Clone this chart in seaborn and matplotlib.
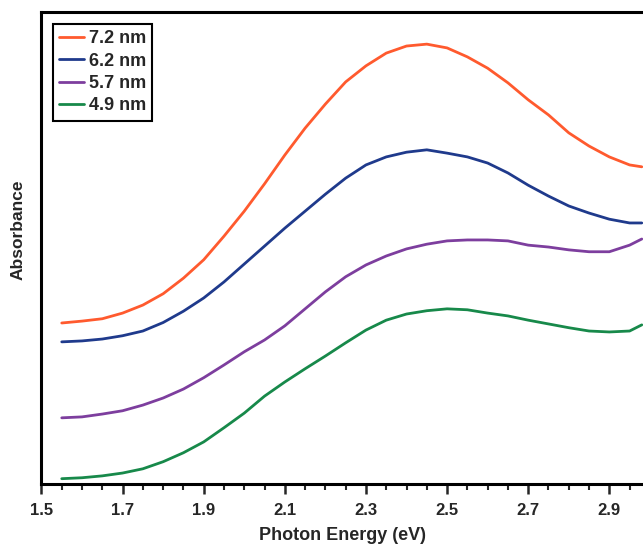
import numpy as np
import pandas as pd
import matplotlib
matplotlib.use("Agg")
import matplotlib.pyplot as plt
from matplotlib.ticker import MultipleLocator, FixedLocator, FormatStrFormatter
import seaborn as sns

# photon energy grid (eV)
energy = [1.55, 1.60, 1.65, 1.70, 1.75, 1.80, 1.85, 1.90, 1.95, 2.00,
          2.05, 2.10, 2.15, 2.20, 2.25, 2.30, 2.35, 2.40, 2.45, 2.50,
          2.55, 2.60, 2.65, 2.70, 2.75, 2.80, 2.85, 2.90, 2.95, 2.98]

# absorbance (arb. units)
abs_72 = [0.341, 0.345, 0.350, 0.362, 0.379, 0.403, 0.436, 0.475, 0.525, 0.578,
          0.636, 0.697, 0.754, 0.805, 0.852, 0.886, 0.913, 0.928, 0.932, 0.924,
          0.905, 0.881, 0.850, 0.814, 0.782, 0.744, 0.716, 0.693, 0.676, 0.672]
abs_62 = [0.301, 0.303, 0.307, 0.314, 0.324, 0.342, 0.366, 0.394, 0.428, 0.466,
          0.504, 0.542, 0.578, 0.614, 0.648, 0.676, 0.693, 0.703, 0.708, 0.701,
          0.693, 0.680, 0.659, 0.633, 0.610, 0.589, 0.574, 0.561, 0.553, 0.553]
abs_57 = [0.140, 0.142, 0.148, 0.155, 0.167, 0.182, 0.201, 0.225, 0.252, 0.280,
          0.305, 0.335, 0.371, 0.407, 0.439, 0.464, 0.483, 0.498, 0.508, 0.515,
          0.517, 0.517, 0.515, 0.506, 0.502, 0.496, 0.492, 0.492, 0.506, 0.519]
abs_49 = [0.011, 0.013, 0.017, 0.023, 0.032, 0.047, 0.066, 0.089, 0.119, 0.150,
          0.186, 0.216, 0.244, 0.271, 0.299, 0.326, 0.347, 0.360, 0.367, 0.371,
          0.369, 0.362, 0.356, 0.347, 0.339, 0.331, 0.324, 0.322, 0.324, 0.337]

sizes = ["7.2 nm", "6.2 nm", "5.7 nm", "4.9 nm"]
colors = ["#ff5a2e", "#1f3a8c", "#7d3e9e", "#17894a"]
major_ticks = [1.5, 1.7, 1.9, 2.1, 2.3, 2.5, 2.7, 2.9]

frames = []
for name, vals in zip(sizes, [abs_72, abs_62, abs_57, abs_49]):
    frames.append(pd.DataFrame({"energy": energy, "absorbance": vals, "size": name}))
data = pd.concat(frames, ignore_index=True)

sns.set_style("white")
plt.rcParams['font.family'] = ['Liberation Sans', 'DejaVu Sans']
plt.rcParams['font.weight'] = 'bold'

fig = plt.figure(figsize=(6.43, 5.48), dpi=100)
ax = fig.add_axes([0.0645, 0.117, 0.9355, 0.861])

sns.lineplot(data=data, x="energy", y="absorbance", hue="size",
             hue_order=sizes, palette=colors, linewidth=2.0, ax=ax)

ax.set_xlim(1.5, 2.983)
ax.set_ylim(0, 1)

ax.xaxis.set_major_locator(FixedLocator(major_ticks))
ax.xaxis.set_minor_locator(MultipleLocator(0.05))
ax.xaxis.set_major_formatter(FormatStrFormatter("%.1f"))
ax.set_yticks([])
ax.tick_params(axis='x', which='major', direction='out', length=7, width=1.8,
               labelsize=12, pad=7, bottom=True)
ax.tick_params(axis='x', which='minor', direction='out', length=4.5, width=1.5, bottom=True)
for lab in ax.get_xticklabels():
    lab.set_fontweight('bold')

for side in ['left', 'bottom', 'top']:
    ax.spines[side].set_color('black')
    ax.spines[side].set_linewidth(2.2)
ax.spines['right'].set_visible(False)

ax.set_xlabel("Photon Energy (eV)", fontsize=13, fontweight='bold', labelpad=6)
ax.set_ylabel("Absorbance", fontsize=12.5, fontweight='bold')
ax.yaxis.set_label_coords(-0.027, 0.538)

leg = ax.legend(loc='upper left', bbox_to_anchor=(0.0186, 0.975), borderaxespad=0,
                fancybox=False, framealpha=1, edgecolor='black',
                handlelength=1.4, handletextpad=0.25, labelspacing=0.3,
                borderpad=0.35, prop={'size': 13, 'weight': 'bold'})
leg.get_frame().set_linewidth(1.5)

fig.savefig("out.png", dpi=100)
